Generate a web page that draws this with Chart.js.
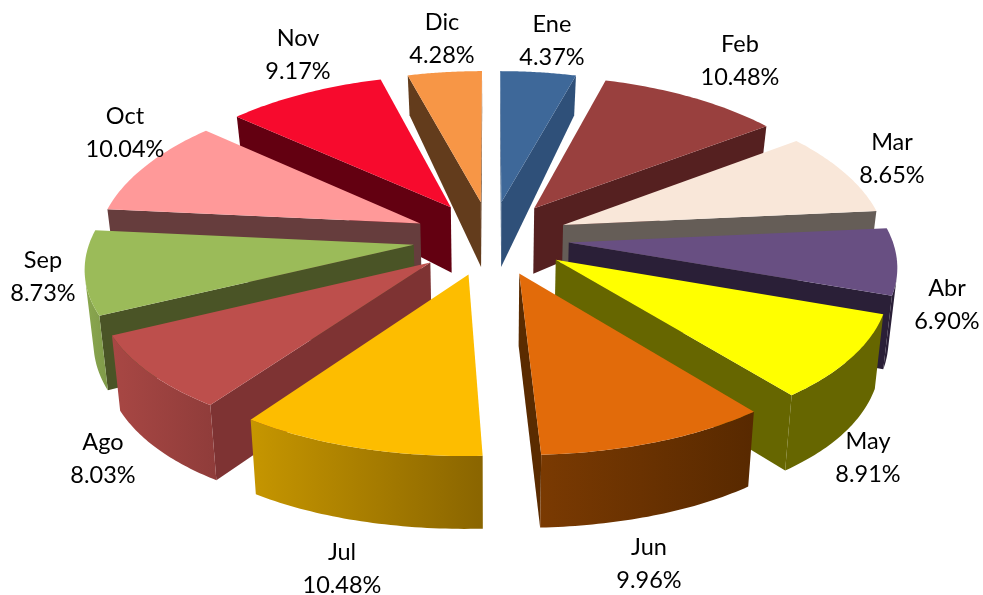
<!DOCTYPE html>
<html>
<head>
<meta charset="utf-8">
<style>html,body{margin:0;padding:0;background:#fff}canvas{display:block}</style>
<script src="https://cdn.jsdelivr.net/npm/chart.js@4/dist/chart.umd.min.js"></script>
</head>
<body>
<canvas id="c" width="983" height="595"></canvas>
<script>
const categories = ['Ene','Feb','Mar','Abr','May','Jun','Jul','Ago','Sep','Oct','Nov','Dic'];
const values = [4.37,10.48,8.65,6.90,8.91,9.96,10.48,8.03,8.73,10.04,9.17,4.28];
const percentLabels = ['4.37%','10.48%','8.65%','6.90%','8.91%','9.96%','10.48%','8.03%','8.73%','10.04%','9.17%','4.28%'];

const topColors  = ['#3e6899','#99403e','#f9e7d9','#684f82','#ffff00','#e26b0a','#fdbd00','#bd4f4c','#9bbb59','#ff9999','#f70a2d','#f79646'];
const sideColors = ['#2f5079','#552020','#655d57','#2a1f37','#666600','#5a2b00','#6b5000','#7e3333','#4a5426','#663d3d','#630011','#633c1c'];
const outerLeft  = ['#2f5079','#552020','#655d57','#2a1f37','#666600','#7a3a02','#c69600','#a84744','#8ba84f','#663d3d','#630011','#633c1c'];
const outerRight = ['#2f5079','#552020','#655d57','#2a1f37','#666600','#582900','#8a6500','#8f3c3a','#7f9a49','#663d3d','#630011','#633c1c'];
const labelCenters = [[552,24],[740,44],[892,142],[947,288],[868,441],[649,547],[342,552],[103,442],[43,260],[125,116],[298,38],[442,22]];

const view = {
  cx: 491,
  top: {c:238, A:153, B:323, ky:0.11, kx:0.13},
  bot: {c:307, A:169, B:316, ky:0.05, kx:0.13}
};
function project(p, plane){
  return {
    x: view.cx + plane.B * p.u / (1 - plane.kx * p.v),
    y: plane.c + plane.A * p.v / (1 - plane.ky * p.v)
  };
}
function polygon(ctx, pts){
  ctx.beginPath();
  pts.forEach((p,i)=> i ? ctx.lineTo(p.x,p.y) : ctx.moveTo(p.x,p.y));
  ctx.closePath();
}
function area(pts){
  let s = 0;
  pts.forEach((p,i)=>{ const q = pts[(i+1)%pts.length]; s += p.x*q.y - q.x*p.y; });
  return s/2;
}
function paint(ctx, pts, fill){
  polygon(ctx, pts);
  ctx.fillStyle = fill;
  ctx.fill();
}

const pie3d = {
  id: 'pie3d',
  beforeDatasetDraw(chart, args){
    const ctx = chart.ctx;
    const arcs = args.meta.data;
    const slices = arcs.map((el,i)=>{
      const e = el.options.offset / el.outerRadius;
      const m = (el.startAngle + el.endAngle) / 2;
      const apex = {u:e*Math.cos(m), v:e*Math.sin(m)};
      const rim = [];
      const n = 40;
      for(let s=0;s<=n;s++){
        const a = el.startAngle + (el.endAngle-el.startAngle)*s/n;
        rim.push({u:apex.u+Math.cos(a), v:apex.v+Math.sin(a)});
      }
      return {i, apex, rim};
    });
    slices.sort((a,b)=> a.apex.v - b.apex.v);
    slices.forEach(s=>{
      const T = s.rim.map(p=>project(p,view.top));
      const B = s.rim.map(p=>project(p,view.bot));
      const aT = project(s.apex,view.top), aB = project(s.apex,view.bot);
      const last = T.length-1;
      const radial = [[aT,T[0],B[0],aB],[T[last],aT,aB,B[last]]];
      radial.forEach(q=>{ if(area(q)<0) paint(ctx,q,sideColors[s.i]); });
      const xs = T.concat(B).map(p=>p.x);
      const g = ctx.createLinearGradient(Math.min(...xs),0,Math.max(...xs),0);
      g.addColorStop(0,outerLeft[s.i]); g.addColorStop(1,outerRight[s.i]);
      let runT = [], runB = [];
      const flush = ()=>{
        if(runT.length){ paint(ctx, runT.concat(runB.slice().reverse()), g); }
        runT = []; runB = [];
      };
      for(let j=0;j<last;j++){
        const q = [T[j],T[j+1],B[j+1],B[j]];
        if(area(q)<0){
          if(!runT.length){ runT.push(T[j]); runB.push(B[j]); }
          runT.push(T[j+1]); runB.push(B[j+1]);
        } else flush();
      }
      flush();
      polygon(ctx,[aT].concat(T));
      ctx.fillStyle = topColors[s.i]; ctx.fill();
    });
    return false;
  },
  afterDatasetsDraw(chart){
    const ctx = chart.ctx;
    ctx.save();
    ctx.font = '23.5px Lato';
    ctx.fillStyle = '#000';
    ctx.textAlign = 'center';
    ctx.textBaseline = 'middle';
    categories.forEach((c,i)=>{
      const [x,y] = labelCenters[i];
      ctx.fillText(c,x,y);
      ctx.fillText(percentLabels[i],x,y+33);
    });
    ctx.restore();
  }
};

new Chart(document.getElementById('c'),{
  type:'pie',
  data:{labels:categories,datasets:[{data:values,backgroundColor:topColors,borderWidth:0,offset:58}]},
  options:{
    responsive:false,
    animation:false,
    radius:240,
    plugins:{legend:{display:false},tooltip:{enabled:false}}
  },
  plugins:[pie3d]
});
</script>
</body>
</html>
